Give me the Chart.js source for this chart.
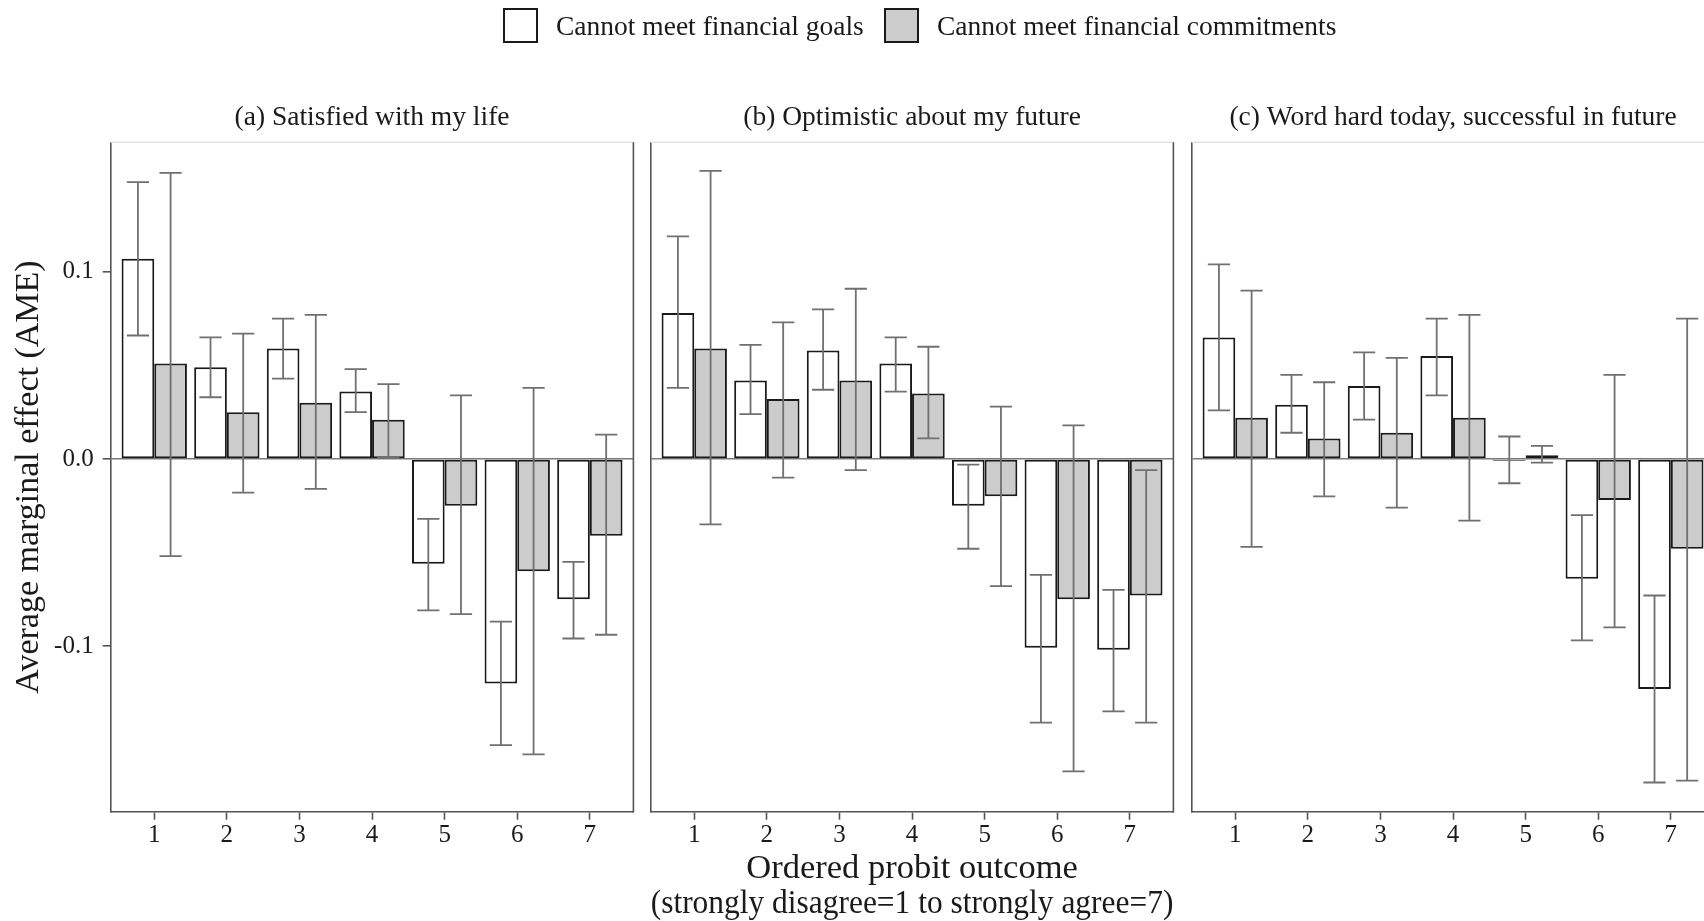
<!DOCTYPE html>
<html>
<head>
<meta charset="utf-8">
<script src="https://cdn.jsdelivr.net/npm/chart.js@4.4.1/dist/chart.umd.min.js"></script>
<style>
  html, body { margin: 0; padding: 0; background: #fff; overflow: hidden; width: 1704px; height: 921px; }
  canvas { position: absolute; top: 0; }
  #legend { position: absolute; top: 0; left: 0; width: 1704px; height: 52px; z-index: 2;
            font-family: "Liberation Serif", serif; font-size: 27.5px; color: #1a1a1a; }
  .swatch { position: absolute; top: 8px; width: 35px; height: 35px; box-sizing: border-box; border: 2px solid #1a1a1a; }
  .label { position: absolute; top: 26px; transform: translateY(-50%); white-space: nowrap; }
</style>
</head>
<body>
<div id="legend"></div>
<canvas id="panelA" width="640" height="921" style="left:0px"></canvas>
<canvas id="panelB" width="540" height="921" style="left:640px"></canvas>
<canvas id="panelC" width="540" height="921" style="left:1180px"></canvas>

<script>
const outcomes = [1, 2, 3, 4, 5, 6, 7];
const outcomeLabels = ["1", "2", "3", "4", "5", "6", "7"];
const yTickValues = [-0.1, 0, 0.1];
const yTickLabels = ["-0.1", "0.0", "0.1"];
const seriesNames = ["Cannot meet financial goals", "Cannot meet financial commitments"];
const seriesFills = ["#ffffff", "#cccccc"];
const panelTitles = [
  "(a) Satisfied with my life",
  "(b) Optimistic about my future",
  "(c) Word hard today, successful in future"
];
const xTitle = ["Ordered probit outcome", "(strongly disagree=1 to strongly agree=7)"];
const yTitle = "Average marginal effect (AME)";

// (a) satisfied with life
const lifeGoals = [0.107, 0.049, 0.059, 0.036, -0.056, -0.120, -0.075];
const lifeGoalsCI = [[0.066, 0.148], [0.033, 0.065], [0.043, 0.075], [0.025, 0.048], [-0.081, -0.032], [-0.153, -0.087], [-0.096, -0.055]];
const lifeCommit = [0.051, 0.025, 0.030, 0.021, -0.025, -0.060, -0.041];
const lifeCommitCI = [[-0.052, 0.153], [-0.018, 0.067], [-0.016, 0.077], [0.001, 0.040], [-0.083, 0.034], [-0.158, 0.038], [-0.094, 0.013]];

// (b) optimistic about future
const futureGoals = [0.078, 0.042, 0.058, 0.051, -0.025, -0.101, -0.102];
const futureGoalsCI = [[0.038, 0.119], [0.024, 0.061], [0.037, 0.080], [0.036, 0.065], [-0.048, -0.003], [-0.141, -0.062], [-0.135, -0.070]];
const futureCommit = [0.059, 0.032, 0.042, 0.035, -0.020, -0.075, -0.073];
const futureCommitCI = [[-0.035, 0.154], [-0.010, 0.073], [-0.006, 0.091], [0.011, 0.060], [-0.068, 0.028], [-0.167, 0.018], [-0.141, -0.006]];

// (c) hard work pays off
const workGoals = [0.065, 0.029, 0.039, 0.055, -0.001, -0.064, -0.123];
const workGoalsCI = [[0.026, 0.104], [0.014, 0.045], [0.021, 0.057], [0.034, 0.075], [-0.013, 0.012], [-0.097, -0.030], [-0.173, -0.073]];
const workCommit = [0.022, 0.011, 0.014, 0.022, 0.002, -0.022, -0.048];
const workCommitCI = [[-0.047, 0.090], [-0.020, 0.041], [-0.026, 0.054], [-0.033, 0.077], [-0.002, 0.007], [-0.090, 0.045], [-0.172, 0.075]];

const FONT = "Liberation Serif";
const INK = "#1a1a1a";
const AXIS = "#555555";
Chart.defaults.font.family = FONT;
Chart.defaults.color = INK;

// legend across the top
const legendPos = [{ box: 502.7, text: 556 }, { box: 883.5, text: 937 }];
const legend = document.getElementById("legend");
seriesNames.forEach((name, i) => {
  const sw = document.createElement("span");
  sw.className = "swatch";
  sw.style.left = legendPos[i].box + "px";
  sw.style.background = seriesFills[i];
  const lb = document.createElement("span");
  lb.className = "label";
  lb.style.left = legendPos[i].text + "px";
  lb.textContent = name;
  legend.appendChild(sw);
  legend.appendChild(lb);
});

// confidence intervals drawn over the bars
const errorBars = {
  id: "errorBars",
  afterDatasetsDraw(chart) {
    const ctx = chart.ctx;
    const y = chart.scales.y;
    ctx.save();
    ctx.strokeStyle = "#707070";
    ctx.lineWidth = 1.8;
    chart.data.datasets.forEach((ds, i) => {
      chart.getDatasetMeta(i).data.forEach((bar, j) => {
        const [lo, hi] = ds.ci[j];
        const top = y.getPixelForValue(hi);
        const bot = y.getPixelForValue(lo);
        const half = bar.width * 0.34;
        ctx.beginPath();
        ctx.moveTo(bar.x, top); ctx.lineTo(bar.x, bot);
        ctx.moveTo(bar.x - half, top); ctx.lineTo(bar.x + half, top);
        ctx.moveTo(bar.x - half, bot); ctx.lineTo(bar.x + half, bot);
        ctx.stroke();
      });
    });
    ctx.restore();
  }
};

// light top edge and dark right edge of each panel
const panelFrame = {
  id: "panelFrame",
  beforeDatasetsDraw(chart) {
    const { ctx, chartArea: a } = chart;
    ctx.save();
    ctx.lineWidth = 1.6;
    ctx.strokeStyle = "#e3e3e3";
    ctx.beginPath(); ctx.moveTo(a.left, a.top); ctx.lineTo(a.right, a.top); ctx.stroke();
    ctx.strokeStyle = AXIS;
    ctx.beginPath(); ctx.moveTo(a.right, a.top); ctx.lineTo(a.right, a.bottom + 0.8); ctx.stroke();
    ctx.restore();
  }
};

function toPoints(vals) {
  return outcomes.map((x, i) => ({ x: x, y: vals[i] }));
}

function makePanel(id, title, goals, goalsCI, commit, commitCI, opt) {
  new Chart(document.getElementById(id), {
    type: "bar",
    data: {
      datasets: [
        { label: seriesNames[0], data: toPoints(goals), ci: goalsCI, backgroundColor: seriesFills[0] },
        { label: seriesNames[1], data: toPoints(commit), ci: commitCI, backgroundColor: seriesFills[1] }
      ]
    },
    options: {
      responsive: false,
      animation: false,
      events: [],
      layout: { padding: { left: opt.padLeft, right: opt.padRight, top: 0, bottom: 0 } },
      datasets: {
        bar: {
          categoryPercentage: 0.9,
          barPercentage: 1.0,
          borderColor: INK,
          borderWidth: 2,
          borderSkipped: false
        }
      },
      plugins: {
        legend: { display: false },
        tooltip: { enabled: false },
        title: {
          display: true,
          text: title,
          fullSize: false,
          color: INK,
          font: { size: 27.5, weight: "normal", lineHeight: 1.2 },
          padding: { top: 101.5, bottom: 7.8 }
        }
      },
      scales: {
        x: {
          type: "linear",
          min: 0.4,
          max: 7.6,
          bounds: "data",
          offset: false,
          afterBuildTicks: s => { s.ticks = outcomes.map(v => ({ value: v })); },
          afterFit: s => { s.height = 109.3; },
          ticks: {
            callback: (v, i) => outcomeLabels[i],
            font: { size: 25 },
            color: INK,
            padding: 1,
            maxRotation: 0,
            autoSkip: false
          },
          grid: { offset: false, drawOnChartArea: false, drawTicks: true, tickLength: 8, tickColor: AXIS, tickWidth: 1.6 },
          border: { display: true, color: AXIS, width: 1.6 },
          title: {
            display: opt.xTitle,
            text: xTitle,
            color: INK,
            font: { size: 34.5, lineHeight: 1.01 },
            padding: { top: 0, bottom: 0 }
          }
        },
        y: {
          min: -0.1886,
          max: 0.1693,
          bounds: "data",
          afterBuildTicks: s => { s.ticks = yTickValues.map(v => ({ value: v })); },
          afterFit: s => { s.width = opt.first ? 110.7 : 0; },
          ticks: {
            display: opt.first,
            callback: (v, i) => yTickLabels[i],
            font: { size: 25 },
            color: INK,
            padding: 9
          },
          grid: {
            drawOnChartArea: true,
            drawTicks: opt.first,
            tickLength: 8,
            tickColor: AXIS,
            tickWidth: 1.6,
            lineWidth: 1.6,
            color: c => (c.tick && c.tick.value === 0) ? "#7a7a7a" : "rgba(0,0,0,0)"
          },
          border: { display: true, color: AXIS, width: 1.6 },
          title: {
            display: opt.first,
            text: yTitle,
            color: INK,
            font: { size: 34 },
            padding: { top: 9, bottom: 0 }
          }
        }
      }
    },
    plugins: [panelFrame, errorBars]
  });
}

makePanel("panelA", panelTitles[0], lifeGoals, lifeGoalsCI, lifeCommit, lifeCommitCI,
  { first: true, xTitle: false, padLeft: 0, padRight: 6.6 });
makePanel("panelB", panelTitles[1], futureGoals, futureGoalsCI, futureCommit, futureCommitCI,
  { first: false, xTitle: true, padLeft: 10.7, padRight: 6.6 });
makePanel("panelC", panelTitles[2], workGoals, workGoalsCI, workCommit, workCommitCI,
  { first: false, xTitle: false, padLeft: 11.7, padRight: 5.6 });
</script>
</body>
</html>
